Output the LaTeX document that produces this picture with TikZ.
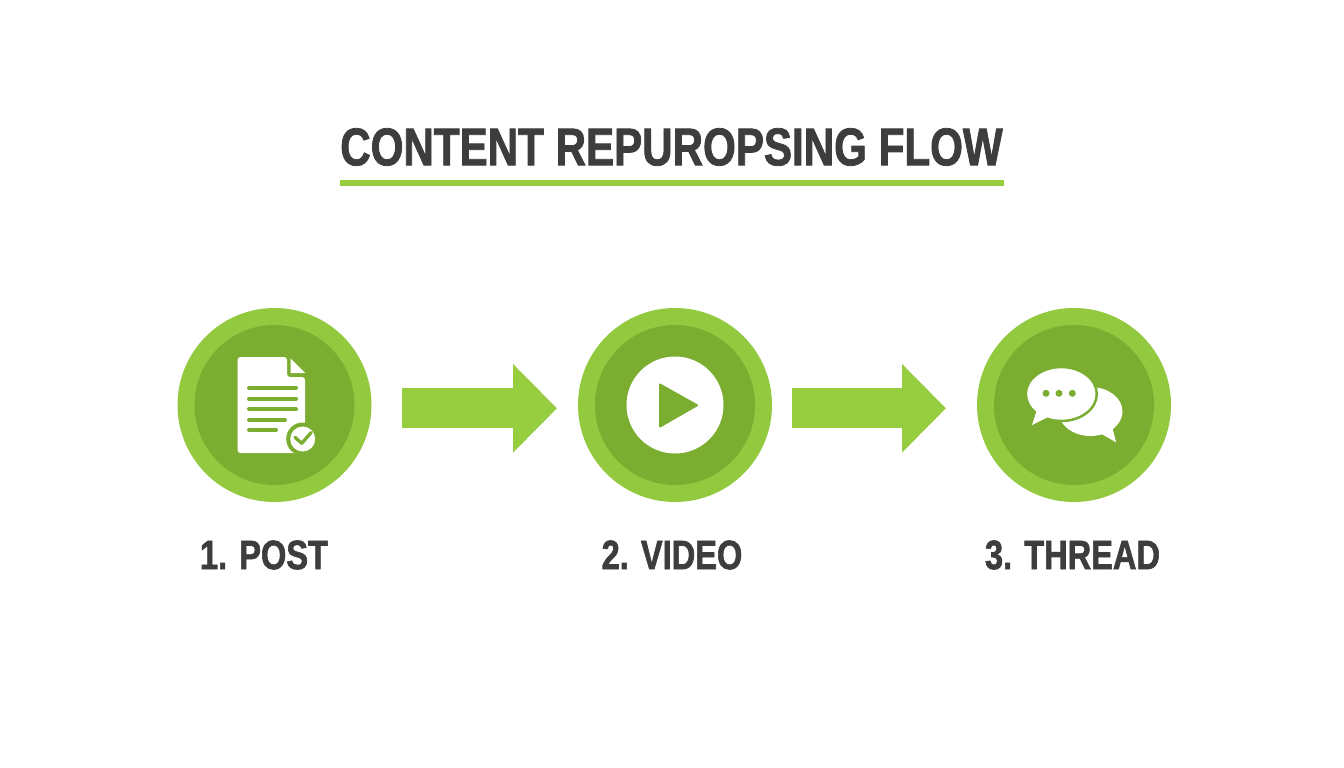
\documentclass[tikz,border=0pt]{standalone}
\usepackage{fontspec}
\setmainfont[FakeStretch=0.795,BoldFeatures={FakeBold=1.5}]{Liberation Sans}
\usetikzlibrary{positioning,arrows.meta}
\definecolor{ringgreen}{HTML}{92C93F}
\definecolor{discgreen}{HTML}{7BAD31}
\definecolor{flowgreen}{HTML}{97CE3F}
\definecolor{inkgray}{HTML}{3D3D3D}
\begin{document}
\begin{tikzpicture}[x=1pt,y=-1pt,
  ring/.style = {shape=circle, fill=ringgreen, minimum size=194pt, inner sep=0pt, outer sep=0pt},
  disc/.style = {shape=circle, fill=discgreen, minimum size=160pt, inner sep=0pt},
  steplabel/.style = {font=\fontsize{41}{44}\selectfont\bfseries, text=inkgray, inner sep=0pt},
  flow/.style = {draw=flowgreen, line width=40pt, -{Triangle[length=44pt,width=86pt]}},
  doclines/.style = {draw=discgreen, line width=4pt}
  ]
  \useasboundingbox (0,0) rectangle (1344,768);
  \fill[white] (0,0) rectangle (1344,768);
  % title
  \node[font=\fontsize{53}{56}\selectfont\bfseries, text=inkgray, inner sep=0pt] (title) at (671.5,147) {CONTENT REPUROPSING FLOW};
  \fill[flowgreen] (339.5,180) rectangle (1004,186);
  % rings
  \node[ring] (post) at (274.5,405) {};
  \node[ring, right=206.5pt of post] (video) {};
  \node[ring, right=205pt of video] (thread) {};
  \node[disc] at (post) {};
  \node[disc] at (video) {};
  \node[disc] at (thread) {};
  % arrows
  \draw[flow, shorten <=30pt, shorten >=21pt] ([yshift=-3.3pt]post.east) -- ([yshift=-3.3pt]video.west);
  \draw[flow, shorten <=20pt, shorten >=31pt] ([yshift=-3.3pt]video.east) -- ([yshift=-3.3pt]thread.west);
  % labels
  \node[steplabel] (postlabel) at (264,555) {1. POST};
  \node[steplabel] (videolabel) at (672,555) {2. VIDEO};
  \node[steplabel] (threadlabel) at (1072.5,555) {3. THREAD};
  % post icon
  \fill[white, rounded corners=3pt] (237.5,357) -- (287,357) -- (287,377) -- (305,377) -- (305,453) -- (237.5,453) -- cycle;
  \fill[white] (290.5,358.5) -- (305,373) -- (290.5,373) -- cycle;
  \foreach \ypos/\xend in {387.5/296, 398.5/296, 409/296, 420/285, 430/276}
    \draw[doclines, line cap=round] (249,\ypos) -- (\xend,\ypos);
  \fill[discgreen] (302.7,439) circle (16.5pt);
  \fill[white] (302.7,439) circle (12.5pt);
  \draw[discgreen, line width=3.3pt, line cap=round, line join=round] (295,437.3) -- (301.7,443.3) -- (311.2,432.5);
  % video icon
  \fill[white] (video) circle (48.5pt);
  \fill[discgreen, draw=discgreen, line width=2pt, line join=round] (660,384.5) -- (697,405.3) -- (660,426.5) -- cycle;
  % thread icon
  \fill[white] (1090.5,411.5) ellipse (32pt and 24.5pt);
  \fill[white] (1098,432) -- (1116,442.3) -- (1111.7,425) -- cycle;
  \filldraw[fill=white, draw=discgreen, line width=2.5pt] (1061.3,394) ellipse (35.5pt and 27pt);
  \fill[white] (1037.5,408) -- (1032,425) -- (1052,415) -- cycle;
  \foreach \xpos in {1046,1059,1072.3}
    \fill[discgreen] (\xpos,393.3) circle (3.5pt);
\end{tikzpicture}
\end{document}
